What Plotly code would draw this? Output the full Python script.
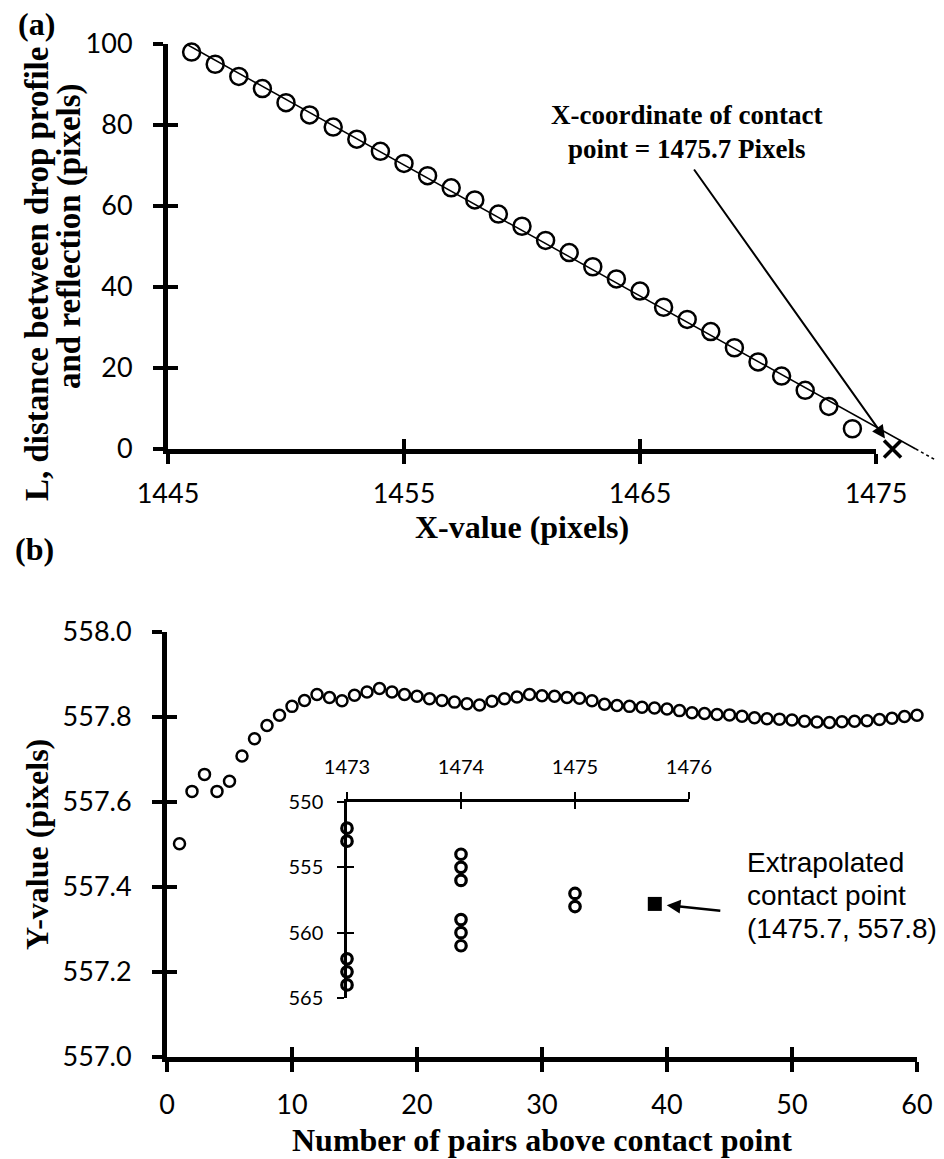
import numpy as np
import plotly.graph_objects as go

# ---------------- data ----------------
# panel (a)
a_x = [1446, 1447, 1448, 1449, 1450, 1451, 1452, 1453, 1454, 1455, 1456, 1457, 1458, 1459, 1460,
       1461, 1462, 1463, 1464, 1465, 1466, 1467, 1468, 1469, 1470, 1471, 1472, 1473, 1474]
a_L = [98, 95, 92, 89, 85.5, 82.5, 79.5, 76.5, 73.5, 70.5, 67.5, 64.5, 61.5, 58, 55,
       51.5, 48.5, 45, 42, 39, 35, 32, 29, 25, 21.5, 18, 14.5, 10.5, 5]
contact_x = 1475.7
a_xticks = [1445, 1455, 1465, 1475]
a_yticks = [0, 20, 40, 60, 80, 100]

# panel (b)
b_n = list(range(1, 61))
b_y = [557.502, 557.625, 557.665, 557.625, 557.649, 557.708, 557.749, 557.780, 557.804, 557.825,
       557.839, 557.853, 557.846, 557.838, 557.851, 557.859, 557.867, 557.859, 557.853, 557.849,
       557.843, 557.839, 557.835, 557.831, 557.828, 557.837, 557.843, 557.847, 557.853, 557.850,
       557.849, 557.846, 557.844, 557.838, 557.830, 557.827, 557.825, 557.823, 557.821, 557.819,
       557.815, 557.810, 557.808, 557.806, 557.805, 557.802, 557.798, 557.796, 557.795, 557.793,
       557.790, 557.788, 557.787, 557.789, 557.790, 557.791, 557.794, 557.797, 557.801, 557.804]
b_xticks = [0, 10, 20, 30, 40, 50, 60]
b_yticks = [557.0, 557.2, 557.4, 557.6, 557.8, 558.0]

# inset
in_x = [1473, 1473, 1473, 1473, 1473, 1474, 1474, 1474, 1474, 1474, 1474, 1475, 1475]
in_y = [552, 553, 562, 563, 564, 554, 555, 556, 559, 560, 561, 557, 558]
extrap_x, extrap_y = 1475.7, 557.8
in_xticks = [1473, 1474, 1475, 1476]
in_yticks = [550, 555, 560, 565]

# ---------------- geometry ----------------
W, H = 944, 1159
def px(x):
    return x / W
def py(y):
    return 1 - y / H

A_L, A_R, A_T, A_B = 168, 876, 44, 449
B_L, B_R, B_T, B_B = 167, 917, 632, 1057
I_L, I_R, I_T, I_B = 347, 689, 802, 998

TICKFONT = dict(family="Lato", size=27, color="black")
TITLEFONT = dict(family="Liberation Serif", size=32, color="black")
YTFONT = dict(family="Liberation Serif", size=33, color="black")
NOTEFONT = dict(family="Liberation Serif", size=27, color="black")
ARIAL = dict(family="Liberation Sans", size=28, color="black")
INFONT = dict(family="Lato", size=20, color="black")

fig = go.Figure()

# trend line fit (panel a)
m, b = np.polyfit(a_x, a_L, 1)
x_start = (100 - b) / m
x_root = -b / m
sx = (A_R - A_L) / 30.0
sy = (A_B - A_T) / 100.0
x3_max = 1445 + (W - A_L) / sx
y3_min = -(530 - A_B) / sy
x_dot_end = x3_max - 0.4

fig.add_trace(go.Scatter(x=[x_start, x_root], y=[m * x_start + b, 0], mode="lines",
                         line=dict(color="black", width=1.5), xaxis="x3", yaxis="y3",
                         showlegend=False, hoverinfo="skip"))
fig.add_trace(go.Scatter(x=[x_root, x_dot_end], y=[0, m * x_dot_end + b], mode="lines",
                         line=dict(color="black", width=1.5, dash="dot"), xaxis="x3", yaxis="y3",
                         showlegend=False, hoverinfo="skip"))
fig.add_trace(go.Scatter(x=[contact_x], y=[0], mode="markers",
                         marker=dict(symbol="x-thin-open", size=17, color="black",
                                     line=dict(width=3.5, color="black")),
                         xaxis="x3", yaxis="y3", showlegend=False, cliponaxis=False))
fig.add_trace(go.Scatter(x=a_x, y=a_L, mode="markers",
                         marker=dict(symbol="circle-open", size=17, color="black",
                                     line=dict(width=2.5, color="black")),
                         xaxis="x", yaxis="y", showlegend=False, cliponaxis=False))
fig.add_trace(go.Scatter(x=[], y=[], xaxis="x2", yaxis="y2", showlegend=False))

# panel b
fig.add_trace(go.Scatter(x=b_n, y=b_y, mode="markers",
                         marker=dict(symbol="circle-open", size=11, color="black",
                                     line=dict(width=2.5, color="black")),
                         xaxis="x4", yaxis="y4", showlegend=False, cliponaxis=False))
fig.add_trace(go.Scatter(x=[], y=[], xaxis="x5", yaxis="y5", showlegend=False))
fig.add_trace(go.Scatter(x=in_x, y=in_y, mode="markers",
                         marker=dict(symbol="circle-open", size=10.5, color="black",
                                     line=dict(width=3.2, color="black")),
                         xaxis="x6", yaxis="y6", showlegend=False, cliponaxis=False))
fig.add_trace(go.Scatter(x=[extrap_x], y=[extrap_y], mode="markers",
                         marker=dict(symbol="square", size=14, color="black"),
                         xaxis="x6", yaxis="y6", showlegend=False, cliponaxis=False))
fig.add_trace(go.Scatter(x=[], y=[], xaxis="x7", yaxis="y7", showlegend=False))


def ax_main(domain, rng, tickvals, anchor, ticks="outside", labels=True, overlay=None,
            lw=5, tl=10, tw=4, font=TICKFONT, side=None, fmt=None, standoff=None):
    d = dict(domain=domain, range=rng, tickmode="array", tickvals=tickvals, anchor=anchor,
             ticks=ticks, ticklen=tl, tickwidth=tw, tickcolor="black",
             showticklabels=labels, tickfont=font, showgrid=False, zeroline=False,
             showline=labels, linecolor="black", linewidth=lw, fixedrange=True,
             automargin=False)
    if overlay:
        d["overlaying"] = overlay
    if side:
        d["side"] = side
    if fmt:
        d["tickformat"] = fmt
    if standoff is not None:
        d["ticklabelstandoff"] = standoff
    return d


layout = dict(
    width=W, height=H, margin=dict(l=0, r=0, t=0, b=0),
    paper_bgcolor="white", plot_bgcolor="rgba(0,0,0,0)", showlegend=False,
    xaxis=ax_main([px(A_L), px(A_R)], [1445, 1475], a_xticks, "y", standoff=7),
    yaxis=ax_main([py(A_B), py(A_T)], [0, 100], a_yticks, "x", standoff=15),
    xaxis2=ax_main([px(A_L), px(A_R)], [1445, 1475], a_xticks, "y2", ticks="inside",
                   labels=False, overlay="x"),
    yaxis2=ax_main([py(A_B), py(A_T)], [0, 100], a_yticks, "x2", ticks="inside",
                   labels=False, overlay="y"),
    xaxis3=dict(domain=[px(A_L), 1.0], range=[1445, x3_max], anchor="y3", visible=False,
                fixedrange=True, automargin=False),
    yaxis3=dict(domain=[py(530), py(A_T)], range=[y3_min, 100], anchor="x3", visible=False,
                fixedrange=True, automargin=False),
    xaxis4=ax_main([px(B_L), px(B_R)], [0, 60], b_xticks, "y4", standoff=10),
    yaxis4=ax_main([py(B_B), py(B_T)], [557.0, 558.0], b_yticks, "x4", fmt=".1f", standoff=15),
    xaxis5=ax_main([px(B_L), px(B_R)], [0, 60], b_xticks, "y5", ticks="inside",
                   labels=False, overlay="x4"),
    yaxis5=ax_main([py(B_B), py(B_T)], [557.0, 558.0], b_yticks, "x5", ticks="inside",
                   labels=False, overlay="y4"),
    xaxis6=ax_main([px(I_L), px(I_R)], [1473, 1476], in_xticks, "y6", lw=2.5, tl=7, tw=2,
                   font=INFONT, side="top", standoff=10),
    yaxis6=ax_main([py(I_B), py(I_T)], [565, 550], in_yticks, "x6", lw=2.5, tl=7, tw=2,
                   font=INFONT, standoff=10),
    xaxis7=ax_main([px(I_L), px(I_R)], [1473, 1476], in_xticks, "y7", ticks="inside",
                   labels=False, overlay="x6", lw=2.5, tl=7, tw=2, side="top"),
    yaxis7=ax_main([py(I_B), py(I_T)], [565, 550], in_yticks, "x7", ticks="inside",
                   labels=False, overlay="y6", lw=2.5, tl=7, tw=2),
)
fig.update_layout(**layout)

ann = []
def paper_text(x, y, text, font, angle=0, xanchor="center"):
    ann.append(dict(x=px(x), y=py(y), xref="paper", yref="paper", text=text, showarrow=False,
                    font=font, textangle=angle, xanchor=xanchor, yanchor="middle"))

paper_text(36, 24, "<b>(a)</b>", TITLEFONT)
paper_text(34, 549, "<b>(b)</b>", TITLEFONT)
paper_text(37, 274, "<b>L, distance between drop profile</b>", YTFONT, angle=-90)
paper_text(69, 236, "<b>and reflection (pixels)</b>", YTFONT, angle=-90)
paper_text(522, 527, "<b>X-value (pixels)</b>", TITLEFONT)
paper_text(37, 845, "<b>Y-value (pixels)</b>", TITLEFONT, angle=-90)
paper_text(542, 1140, "<b>Number of pairs above contact point</b>", TITLEFONT)
paper_text(686, 115, "<b>X-coordinate of contact</b>", NOTEFONT)
paper_text(686, 149, "<b>point = 1475.7 Pixels</b>", NOTEFONT)
paper_text(745, 862, "Extrapolated", ARIAL, xanchor="left")
paper_text(745, 895, "contact point", ARIAL, xanchor="left")
paper_text(745, 928, "(1475.7, 557.8)", ARIAL, xanchor="left")

# arrow panel (a)
mx = A_L + (contact_x - 1445) * sx
ann.append(dict(x=contact_x, y=0, xref="x3", yref="y3", ax=693 - mx, ay=168 - A_B,
                axref="pixel", ayref="pixel", text="", showarrow=True,
                arrowhead=2, arrowsize=1.3, arrowwidth=2, arrowcolor="black", standoff=13))
# arrow inset
ann.append(dict(x=extrap_x, y=extrap_y, xref="x6", yref="y6", ax=67, ay=7, text="",
                showarrow=True, arrowhead=2, arrowsize=1.1, arrowwidth=2.5, arrowcolor="black",
                standoff=12))
fig.update_layout(annotations=ann)

fig.write_html("out.html")
